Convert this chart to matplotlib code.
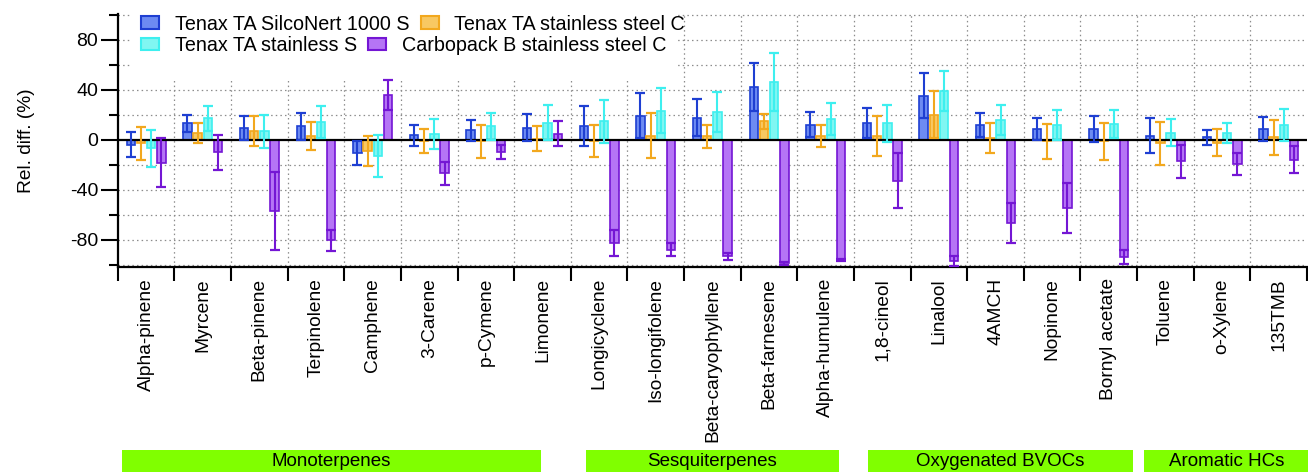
import matplotlib
matplotlib.use("Agg")
import matplotlib.pyplot as plt
import matplotlib.transforms as mtransforms
from matplotlib.patches import Patch, Rectangle
import numpy as np

plt.rcParams['font.family'] = ['Liberation Sans', 'DejaVu Sans']
plt.rcParams['axes.unicode_minus'] = False

categories = ["Alpha-pinene", "Myrcene", "Beta-pinene", "Terpinolene", "Camphene",
              "3-Carene", "p-Cymene", "Limonene", "Longicyclene", "Iso-longifolene",
              "Beta-caryophyllene", "Beta-farnesene", "Alpha-humulene", "1,8-cineol",
              "Linalool", "4AMCH", "Nopinone", "Bornyl acetate", "Toluene", "o-Xylene",
              "135TMB"]

series_names = ["Tenax TA SilcoNert 1000 S", "Tenax TA stainless steel C",
                "Tenax TA stainless S", "Carbopack B stainless steel C"]

silconert_val = [-4, 13, 9, 10.5, -10.5, 3.5, 7.5, 9.5, 11, 19, 17.5, 42, 12, 13, 35, 11.5, 8.5, 8.5, 3, 2, 8.5]
silconert_err = [10, 7, 9.5, 10.5, 9.5, 8.5, 8.5, 11, 16, 18, 15, 19, 10, 12, 18, 9.5, 8.5, 10.5, 14, 6, 9.5]

steelC_val = [-3, 5.5, 7, 3, -9.5, -1, -1.5, 0.5, -1, 3, 2.5, 14.5, 3, 3, 20, 1, -1.5, -1.5, -3, -2.5, 2]
steelC_err = [13, 8, 12, 11, 12, 9.5, 13, 10, 13, 18, 9, 6, 9, 16, 19, 12, 14, 14.5, 17, 11, 14]

stainlessS_val = [-7, 17, 6.5, 14, -13, 4.5, 10.5, 13.5, 14.5, 23, 22, 46, 16.5, 13, 39, 16, 11.5, 12.5, 5.5, 5, 11.5]
stainlessS_err = [15, 10, 13, 13, 17, 12, 10.5, 14, 17, 18, 16, 23, 13, 15, 16, 12, 12, 11, 11, 8, 13]

carbopack_val = [-18.5, -10, -57, -80.5, 35.5, -27, -10, 4.5, -83, -88, -93.5, -99, -96.5, -33, -97, -67, -55, -94, -17.5, -19.5, -16]
carbopack_err = [19.5, 14, 31, 8.5, 12, 9, 5.5, 10, 10.5, 5, 2.5, 1, 1, 22, 4, 16, 20, 5.5, 13, 8.5, 11]

groups = ["Monoterpenes", "Sesquiterpenes", "Oxygenated BVOCs", "Aromatic HCs"]
group_spans = [(-0.43, 6.98), (7.76, 12.24), (12.74, 17.42), (17.63, 20.55)]

values = [silconert_val, steelC_val, stainlessS_val, carbopack_val]
errors = [silconert_err, steelC_err, stainlessS_err, carbopack_err]
edge_colors = ["#1E3FD2", "#F2A81E", "#3EEFEF", "#7416D4"]
fill_colors = ["#6D8BF2", "#F8C862", "#80F6F2", "#B575F5"]
offsets = [-0.27, -0.09, 0.09, 0.27]
bar_w = 0.148

W, H = 1308, 472
fig = plt.figure(figsize=(W / 100, H / 100), dpi=100)
ax = fig.add_axes([117.8 / W, 1 - 267 / H, 1189.2 / W, 253 / H])

x = np.arange(len(categories))
for vals, errs, ec, fc, off in zip(values, errors, edge_colors, fill_colors, offsets):
    ax.bar(x + off, vals, width=bar_w, color=fc, edgecolor=ec, linewidth=1.2, zorder=2)
    ax.errorbar(x + off, vals, yerr=errs, fmt='none', ecolor=ec, elinewidth=1.5,
                capsize=3.8, capthick=1.6, zorder=4)

ax.axhline(0, color='black', lw=1.6, zorder=3)

ax.set_xlim(-0.5, len(categories) - 0.5)
ax.set_ylim(-102, 100.5)

# y ticks
ax.set_yticks([-80, -40, 0, 40, 80])
ax.set_yticks([-100, -60, -20, 20, 60, 100], minor=True)
ax.tick_params(axis='y', which='major', length=12, width=1.5, labelsize=14, pad=2)
ax.tick_params(axis='y', which='minor', length=6.5, width=1.5)

# x ticks: boundaries major (no labels), centers minor with labels
ax.set_xticks(np.arange(-0.5, len(categories), 1.0))
ax.set_xticklabels([])
ax.set_xticks(x, minor=True)
ax.set_xticklabels(categories, minor=True, rotation=90)
ax.tick_params(axis='x', which='major', length=10, width=1.5, direction='out')
ax.tick_params(axis='x', which='minor', length=0, labelsize=13.8, pad=8)

# grid
for yv in [-100, -80, -60, -40, -20, 20, 40, 60, 80, 100]:
    ax.axhline(yv, color='#8c8c8c', lw=0.9, ls=(0, (1.2, 2.5)), zorder=0)
for xv in np.arange(0.5, len(categories) - 1, 1.0):
    ax.axvline(xv, color='#8c8c8c', lw=0.9, ls=(0, (1.2, 2.5)), zorder=0)

for s in ['top', 'right']:
    ax.spines[s].set_visible(False)
for s in ['left', 'bottom']:
    ax.spines[s].set_linewidth(1.6)

ax.set_ylabel("Rel. diff. (%)", fontsize=13.8)
ax.yaxis.set_label_coords(-0.070, 0.5)

# white background behind legend
ax.add_patch(Rectangle((0.0103, 0.747), 0.461, 0.26, transform=ax.transAxes,
                       facecolor='white', edgecolor='none', zorder=1, clip_on=False))

# legend: two rows laid out independently
handles = [Patch(facecolor=fc, edgecolor=ec, linewidth=1.5) for fc, ec in zip(fill_colors, edge_colors)]
leg_kw = dict(ncol=2, loc='center left', borderaxespad=0, fontsize=14.2, frameon=False,
              handlelength=0.9, handleheight=0.6, handletextpad=0.8, columnspacing=0.6,
              borderpad=0)
x_leg = (141 - 117.8) / 1189.2
leg1 = ax.legend([handles[0], handles[1]], [series_names[0], series_names[1]],
                 bbox_to_anchor=(x_leg, (267 - 24) / 253), **leg_kw)
ax.add_artist(leg1)
leg2 = ax.legend([handles[2], handles[3]], [series_names[2], series_names[3]],
                 bbox_to_anchor=(x_leg, (267 - 45.5) / 253), **leg_kw)

# group boxes
trans = mtransforms.blended_transform_factory(ax.transData, fig.transFigure)
box_h = 22 / H
for name, (x0, x1) in zip(groups, group_spans):
    rect = Rectangle((x0, 0), x1 - x0, box_h, transform=trans, facecolor='#80FF00',
                     edgecolor='none', clip_on=False)
    fig.patches.append(rect)
    fig.text((x0 + x1) / 2, box_h / 2, name, transform=trans, ha='center', va='center',
             fontsize=13.5)

fig.savefig("out.png", dpi=100)
